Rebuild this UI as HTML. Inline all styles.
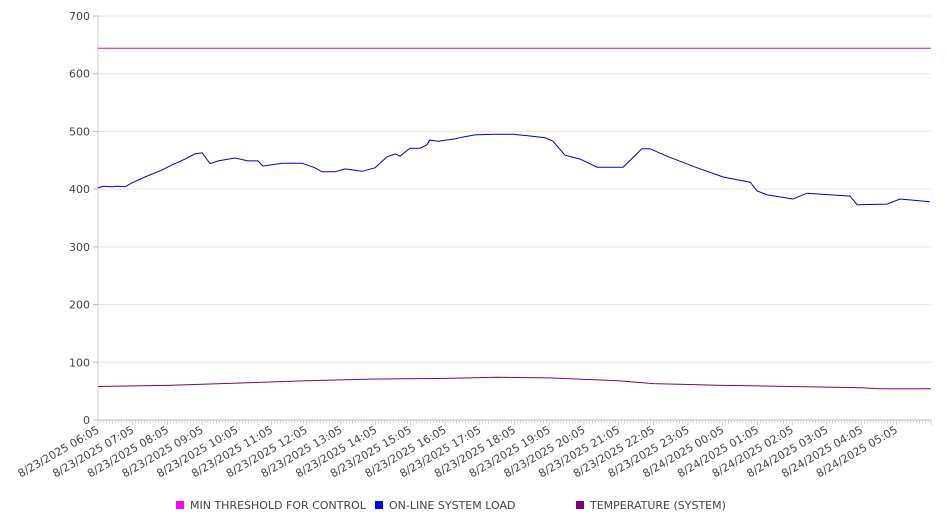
<!DOCTYPE html>
<html><head><meta charset="utf-8"><style>
body{margin:0;background:#fff;}
svg text{font-family:"DejaVu Sans","Liberation Sans",sans-serif;font-size:11px;fill:#444;}
</style></head><body>
<svg id="chart" width="946" height="526" xmlns="http://www.w3.org/2000/svg">
<g id="grid"></g>
<g id="yaxis"></g>
<g id="xaxis"></g>
<g id="series"></g>
<g id="legend"></g>
</svg>
<script>
const xTickLabels=["8/23/2025 06:05","8/23/2025 07:05","8/23/2025 08:05","8/23/2025 09:05","8/23/2025 10:05","8/23/2025 11:05","8/23/2025 12:05","8/23/2025 13:05","8/23/2025 14:05","8/23/2025 15:05","8/23/2025 16:05","8/23/2025 17:05","8/23/2025 18:05","8/23/2025 19:05","8/23/2025 20:05","8/23/2025 21:05","8/23/2025 22:05","8/23/2025 23:05","8/24/2025 00:05","8/24/2025 01:05","8/24/2025 02:05","8/24/2025 03:05","8/24/2025 04:05","8/24/2025 05:05"];
const yTicks=[0,100,200,300,400,500,600,700];
const thresholdHours=[0,24];
const thresholdValues=[644,644];
const loadHours=[0,0.14,0.40,0.58,0.78,0.98,1.35,1.84,2.13,2.51,2.79,3.00,3.23,3.46,3.95,4.32,4.61,4.75,5.30,5.88,6.25,6.45,6.83,7.12,7.61,7.98,8.33,8.56,8.70,8.99,9.28,9.48,9.56,9.80,10.29,10.49,10.86,11.44,11.96,12.45,12.88,13.11,13.45,13.89,14.38,15.13,15.67,15.90,16.39,17.26,18.01,18.79,18.99,19.28,20.02,20.43,21.67,21.87,22.73,23.11,23.97];
const loadValues=[402,405,404,405,404,411,421,433,442,452,461,463,444,449,454,449,449,440,445,445,437,430,430,435,431,437,456,461,457,471,471,477,485,483,487,490,494,495,495,492,489,483,459,452,438,438,470,470,457,437,421,412,397,390,383,393,388,373,374,383,378];
const tempHours=[0,2,4,6,8,10,11.5,13,15,16,18,19,21,22,22.5,24];
const tempValues=[58,60,64,68,71,72,74,73,68,63,60,59,57,56,54,54];

const X0=98,X1=931,Y0=420,Y1=16,VMAX=700;
const xs=h=>X0+(X1-X0)*h/24;
const ys=v=>Y0-(Y0-Y1)*v/VMAX;
const NS="http://www.w3.org/2000/svg";
function mk(tag,attrs,parent){const e=document.createElementNS(NS,tag);for(const k in attrs)e.setAttribute(k,attrs[k]);parent.appendChild(e);return e;}
const grid=document.getElementById('grid'),yaxis=document.getElementById('yaxis'),xaxis=document.getElementById('xaxis'),series=document.getElementById('series'),legend=document.getElementById('legend');
yTicks.forEach(v=>{
  const l=mk('line',{x1:X0,x2:X1,y1:ys(v),y2:ys(v),stroke:v===0?'#bbb':'#e6e6e6','stroke-width':1},grid);
  
  
  const t=mk('line',{x1:X0-5,x2:X0,y1:ys(v),y2:ys(v),stroke:'#bbb'},yaxis);
  
  
  const tx=mk('text',{x:X0-8,y:ys(v)+4,'text-anchor':'end'},yaxis);
  tx.textContent=v;
  
  
});
const ax=mk('line',{x1:X0,x2:X0,y1:Y1,y2:Y0,stroke:'#ccc'},yaxis);


for(let i=0;i<=24*12;i++){
  const x=xs(i/12);
  const m=mk('line',{x1:x,x2:x,y1:Y0,y2:Y0+(i%12===0?5:3),stroke:'#bbb','stroke-width':0.7},xaxis);
  
  
}
xTickLabels.forEach((s,i)=>{
  const x=xs(i)+2,y=Y0+12;
  const t=mk('text',{x:x,y:y,'text-anchor':'end',transform:`rotate(-30 ${x} ${y})`},xaxis);
  t.textContent=s;
  
  
});
function line(hours,vals,color,name){
  const n=Math.min(hours.length,vals.length);
  let d='';
  for(let i=0;i<n;i++)d+=(i?'L':'M')+xs(hours[i]).toFixed(1)+','+ys(vals[i]).toFixed(1);
  const p=mk('path',{d:d,fill:'none',stroke:color,'stroke-width':1},series);
  
  
}
line(thresholdHours,thresholdValues,'#cc11cc','min-threshold-line');
line(loadHours,loadValues,'#0000cc','system-load-line');
line(tempHours,tempValues,'#800070','temperature-line');
const items=[["MIN THRESHOLD FOR CONTROL","#ff00ff",176],["ON-LINE SYSTEM LOAD","#0000ff",375],["TEMPERATURE (SYSTEM)","#800080",576]];
items.forEach(it=>{
  const g=mk('g',{},legend);
  
  
  mk('rect',{x:it[2],y:501,width:8,height:8,fill:it[1]},g);
  const t=mk('text',{x:it[2]+14,y:509},g);
  t.textContent=it[0];
});
</script>
</body></html>
